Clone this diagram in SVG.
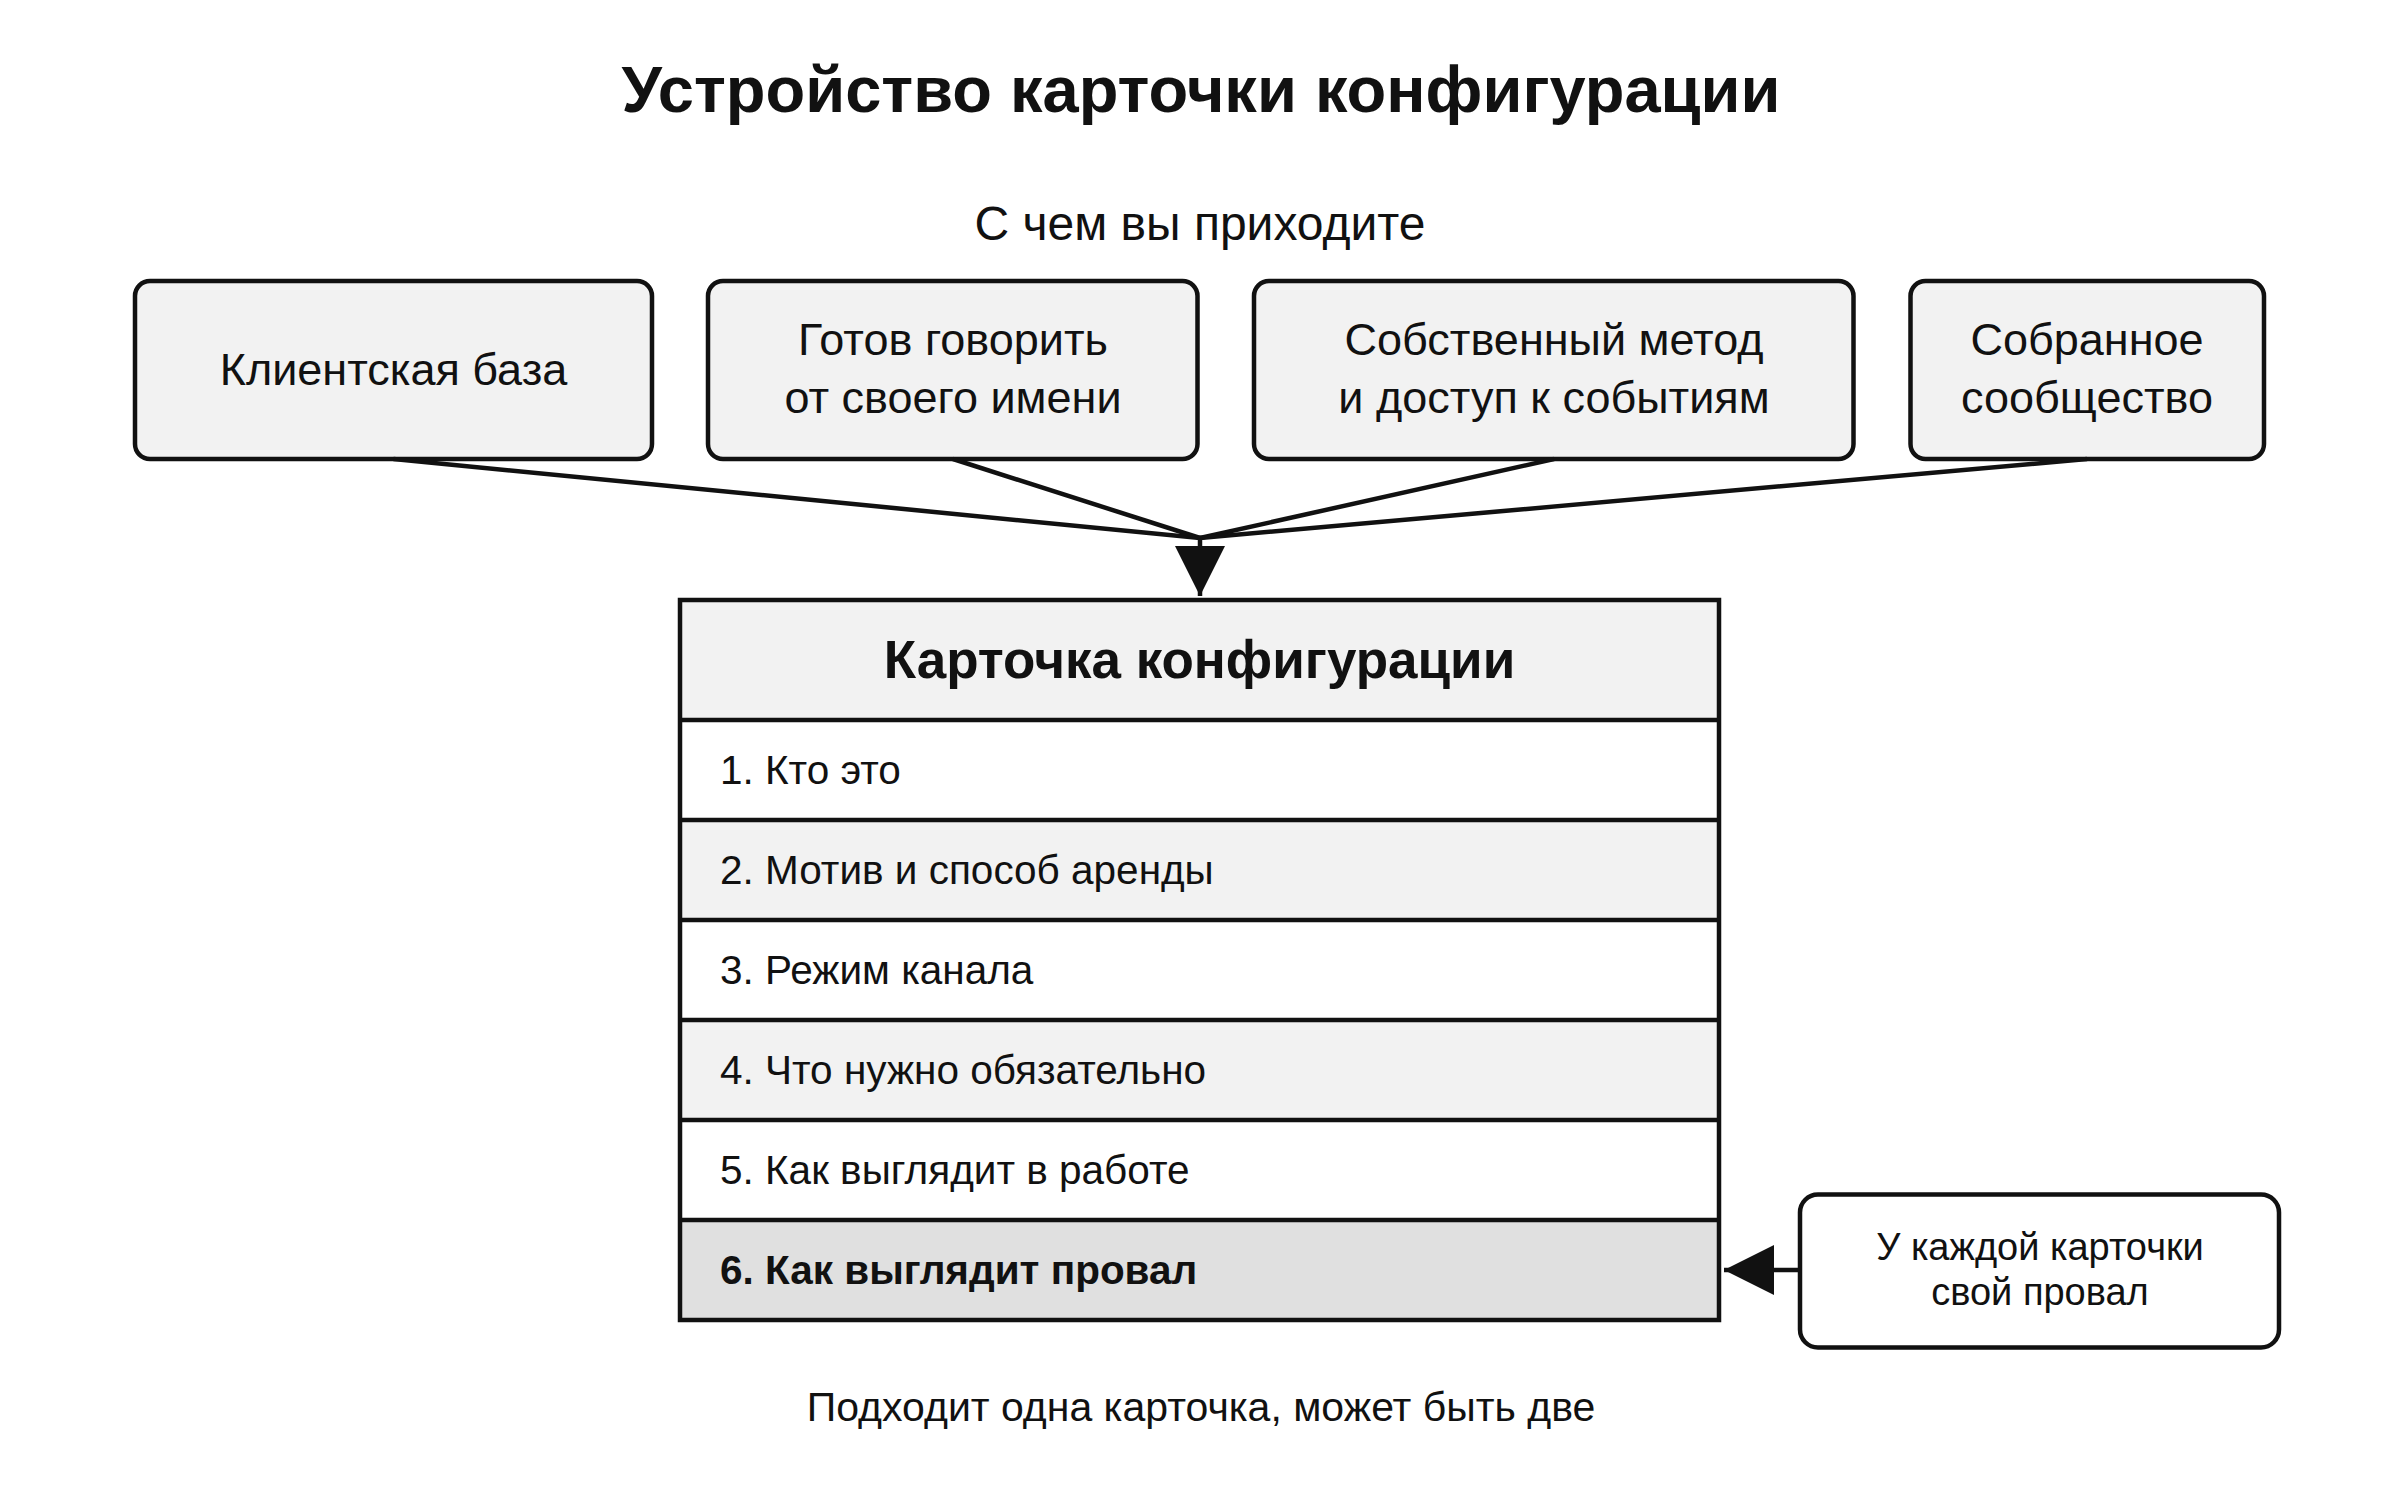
<svg xmlns="http://www.w3.org/2000/svg" width="2400" height="1500" viewBox="0 0 2400 1500">
<defs>
<style>
text{font-family:"Liberation Sans",Arial,sans-serif;fill:#111}
.title{font-size:65px;font-weight:bold;text-anchor:middle}
.sub{font-size:48px;text-anchor:middle}
.box{fill:#f2f2f2;stroke:#111;stroke-width:4.5}
.btxt{font-size:45px;text-anchor:middle}
.row{stroke:#111;stroke-width:4.5}
.rtxt{font-size:40.5px}
.hdr{font-size:53px;font-weight:bold;text-anchor:middle}
.conn{fill:none;stroke:#111;stroke-width:4.5}
.ctxt{font-size:38px;text-anchor:middle}
</style>
<marker id="ah" viewBox="0 0 50 50" refX="50" refY="25" markerWidth="50" markerHeight="50" markerUnits="userSpaceOnUse" orient="auto">
<path d="M0,0 L50,25 L0,50 Z" fill="#111"/>
</marker>
</defs>
<rect width="2400" height="1500" fill="#fff"/>
<text class="title" x="1201" y="112">Устройство карточки конфигурации</text>
<text class="sub" x="1200" y="240">С чем вы приходите</text>

<g id="n1"><rect class="box" x="135" y="281" width="517" height="178" rx="15"/><text class="btxt" x="393.5" y="385">Клиентская база</text></g>
<g id="n2"><rect class="box" x="708" y="281" width="489.5" height="178" rx="15"/><text class="btxt" x="953" y="355">Готов говорить</text><text class="btxt" x="953" y="413">от своего имени</text></g>
<g id="n3"><rect class="box" x="1254" y="281" width="599.5" height="178" rx="15"/><text class="btxt" x="1554" y="355">Собственный метод</text><text class="btxt" x="1554" y="413">и доступ к событиям</text></g>
<g id="n4"><rect class="box" x="1910.5" y="281" width="353.5" height="178" rx="15"/><text class="btxt" x="2087" y="355">Собранное</text><text class="btxt" x="2087" y="413">сообщество</text></g>

<g id="card">
<rect x="680" y="600" width="1039" height="120" fill="#f2f2f2"/>
<rect x="680" y="720" width="1039" height="100" fill="#fff"/>
<rect x="680" y="820" width="1039" height="100" fill="#f2f2f2"/>
<rect x="680" y="920" width="1039" height="100" fill="#fff"/>
<rect x="680" y="1020" width="1039" height="100" fill="#f2f2f2"/>
<rect x="680" y="1120" width="1039" height="100" fill="#fff"/>
<rect x="680" y="1220" width="1039" height="100" fill="#e0e0e0"/>
<line class="row" x1="680" y1="720" x2="1719" y2="720"/>
<line class="row" x1="680" y1="820" x2="1719" y2="820"/>
<line class="row" x1="680" y1="920" x2="1719" y2="920"/>
<line class="row" x1="680" y1="1020" x2="1719" y2="1020"/>
<line class="row" x1="680" y1="1120" x2="1719" y2="1120"/>
<line class="row" x1="680" y1="1220" x2="1719" y2="1220"/>
<rect x="680" y="600" width="1039" height="720" fill="none" stroke="#111" stroke-width="4.5"/>
<text class="hdr" x="1199.5" y="678">Карточка конфигурации</text>
<text class="rtxt" x="720" y="784">1. Кто это</text>
<text class="rtxt" x="720" y="884">2. Мотив и способ аренды</text>
<text class="rtxt" x="720" y="984">3. Режим канала</text>
<text class="rtxt" x="720" y="1084">4. Что нужно обязательно</text>
<text class="rtxt" x="720" y="1184">5. Как выглядит в работе</text>
<text class="rtxt" x="720" y="1284" font-weight="bold" font-size="40">6. Как выглядит провал</text>
</g>

<g id="note"><rect x="1800" y="1194.5" width="479" height="153" rx="18" fill="#fff" stroke="#111" stroke-width="4.5"/><text class="ctxt" x="2040" y="1260">У каждой карточки</text><text class="ctxt" x="2040" y="1305">свой провал</text></g>

<text x="1201" y="1421" font-size="41" text-anchor="middle">Подходит одна карточка, может быть две</text>

<g id="connectors">
<line class="conn" x1="393.5" y1="459" x2="1200" y2="538"/>
<line class="conn" x1="953" y1="459" x2="1200" y2="538"/>
<line class="conn" x1="1554" y1="459" x2="1200" y2="538"/>
<line class="conn" x1="2087" y1="459" x2="1200" y2="538"/>
<line class="conn" x1="1200" y1="536" x2="1200" y2="596" marker-end="url(#ah)"/>
<line class="conn" x1="1800" y1="1270" x2="1724" y2="1270" marker-end="url(#ah)"/>
</g>
</svg>
